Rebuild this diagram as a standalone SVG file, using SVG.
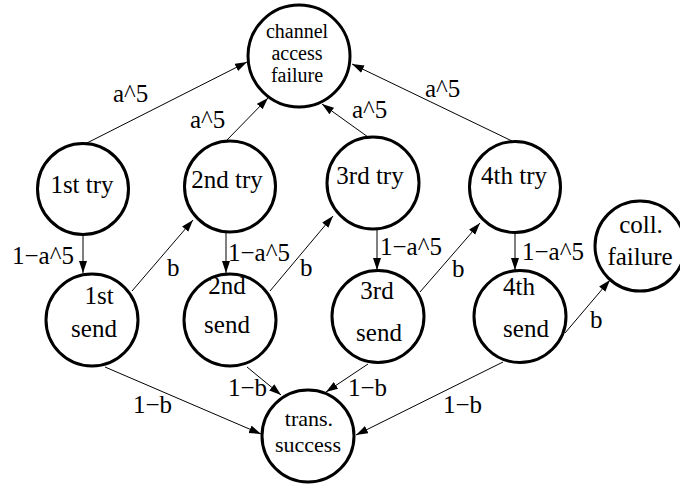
<svg xmlns="http://www.w3.org/2000/svg" width="680" height="485" viewBox="0 0 680 485">
<defs>
<marker id="ah" markerUnits="userSpaceOnUse" markerWidth="13" markerHeight="9" refX="12" refY="4" orient="auto">
<path d="M0,0 L12,4 L0,8 z" fill="#000"/>
</marker>
<style>
.n{fill:#fff;stroke:#000;stroke-width:3}
.t{text-anchor:middle}
.e{stroke:#000;stroke-width:1;fill:none;marker-end:url(#ah)}
</style>
</defs>
<rect width="680" height="485" fill="#fff"/>
<g font-family="'Liberation Serif', 'Times New Roman', serif" font-size="25" fill="#000">
<g id="connectors">
<line class="e" x1="85" y1="144" x2="247" y2="62"/>
<line class="e" x1="227" y1="140" x2="268" y2="98"/>
<line class="e" x1="368" y1="137" x2="322" y2="104"/>
<line class="e" x1="512" y1="141" x2="352" y2="64"/>
<line class="e" x1="83" y1="235" x2="83" y2="273"/>
<line class="e" x1="132" y1="291" x2="193" y2="220"/>
<line class="e" x1="226" y1="233" x2="226" y2="273"/>
<line class="e" x1="270" y1="291" x2="333" y2="216"/>
<line class="e" x1="377" y1="229" x2="377" y2="270"/>
<line class="e" x1="420" y1="292" x2="480" y2="223"/>
<line class="e" x1="515" y1="233" x2="515" y2="270"/>
<line class="e" x1="565" y1="333" x2="610" y2="280"/>
<line class="e" x1="105" y1="367" x2="261" y2="434"/>
<line class="e" x1="247" y1="367" x2="281" y2="395"/>
<line class="e" x1="368" y1="364" x2="326" y2="392"/>
<line class="e" x1="503" y1="362" x2="356" y2="435"/>
<text x="113" y="102">a^5</text>
<text x="190" y="128">a^5</text>
<text x="352" y="118">a^5</text>
<text x="425" y="97">a^5</text>
<text x="12" y="264">1−a^5</text>
<text x="167" y="276">b</text>
<text x="228" y="261">1−a^5</text>
<text x="300" y="276">b</text>
<text x="380" y="255">1−a^5</text>
<text x="452" y="277">b</text>
<text x="522" y="260">1−a^5</text>
<text x="590" y="328">b</text>
<text x="133" y="413">1−b</text>
<text x="228" y="396">1−b</text>
<text x="348" y="396">1−b</text>
<text x="443" y="413">1−b</text>
</g>
<g id="caf"><circle class="n" cx="299" cy="56" r="51"/>
<text class="t" x="297" y="38" font-size="20">channel</text><text class="t" x="297" y="60" font-size="20">access</text><text class="t" x="297" y="82" font-size="20">failure</text></g>
<g id="try1"><circle class="n" cx="83" cy="189" r="45.5"/><text class="t" x="82" y="193">1st try</text></g>
<g id="try2"><circle class="n" cx="230" cy="186.5" r="45.5"/><text class="t" x="227" y="188">2nd try</text></g>
<g id="try3"><circle class="n" cx="373" cy="183" r="46"/><text class="t" x="370" y="184">3rd try</text></g>
<g id="try4"><circle class="n" cx="515" cy="187" r="45.5"/><text class="t" x="514" y="184">4th try</text></g>
<g id="coll"><circle class="n" cx="640" cy="246" r="45"/><text class="t" x="641" y="233">coll.</text><text class="t" x="640" y="265">failure</text></g>
<g id="send1"><circle class="n" cx="92" cy="320" r="46"/><text class="t" x="99" y="304">1st</text><text class="t" x="94" y="337">send</text></g>
<g id="send2"><circle class="n" cx="230" cy="320" r="46"/><text class="t" x="227" y="294">2nd</text><text class="t" x="227" y="333">send</text></g>
<g id="send3"><circle class="n" cx="378" cy="316.5" r="46"/><text class="t" x="377" y="299">3rd</text><text class="t" x="379" y="341">send</text></g>
<g id="send4"><circle class="n" cx="520" cy="316.5" r="46"/><text class="t" x="519" y="295">4th</text><text class="t" x="526" y="337">send</text></g>
<g id="trans"><circle class="n" cx="308" cy="436" r="46"/><text class="t" x="309" y="426" font-size="22">trans.</text><text class="t" x="308" y="452" font-size="22">success</text></g>
</g>
</svg>
